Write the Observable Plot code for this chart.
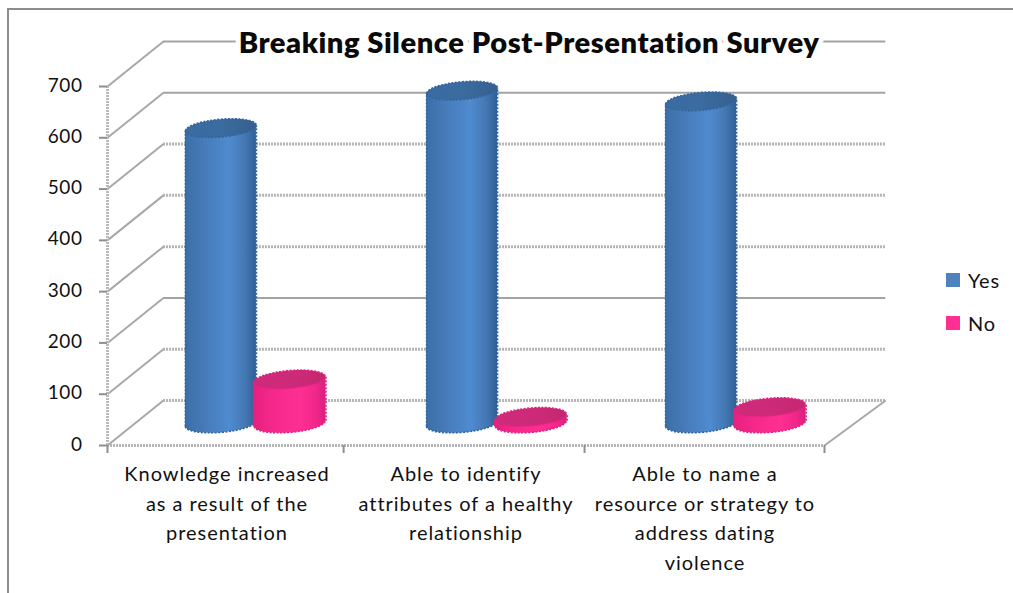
<!DOCTYPE html>
<html>
<head>
<meta charset="utf-8">
<script src="https://cdn.jsdelivr.net/npm/d3@7"></script>
<script src="https://cdn.jsdelivr.net/npm/@observablehq/plot@0.6"></script>
<style>
html,body{margin:0;padding:0;background:#fff;overflow:hidden}
#wrap{position:relative;width:1013px;height:593px;font-family:Lato,sans-serif;color:#111}
#wrap svg{position:absolute;left:0;top:0;letter-spacing:.55px}
#edge{position:absolute;left:7px;top:8px;right:0;bottom:0;border-left:2px solid #8d8d8d;border-top:2px solid #8d8d8d}
.key{position:absolute;left:946px;font-size:20px;line-height:20px;letter-spacing:.8px}
.key i{position:absolute;left:0;top:3px;width:14px;height:14px}
.key span{position:absolute;left:22px;top:0}
</style>
</head>
<body>
<div id="wrap"><div id="edge"></div></div>
<script>
const title = "Breaking Silence Post-Presentation Survey";
const categories = [
  "Knowledge increased\nas a result of the\npresentation",
  "Able to identify\nattributes of a healthy\nrelationship",
  "Able to name a\nresource or strategy to\naddress dating\nviolence"
];
const yesValues = [576, 649, 628];
const noValues = [86, 13, 32];
const yTicks = [0, 100, 200, 300, 400, 500, 600, 700];
const smoothGrid = [200, 600, 700];
const roughGrid = [0, 100, 300, 400, 500];
const xTicks = [0, 0.988, 1.996, 3];
const seriesColors = {Yes: "#4f81bd", No: "#ff2f92"};

const W = 1013, H = 593;
const depthX = 56, depthY = -45;        // oblique offset of the back wall, px
const midX = 28, midY = -22;            // columns stand halfway into the floor
const backX = 0.234, backY = 87.7;      // same depth expressed in data units
const rx = 35.5;
const shear = 0.08;                     // the column ends tilt up to the right
const tilt = 5.5;                       // that tilt at the column's edge, data units
const drift = [0, 0.009, 0.009];        // columns sit slightly off the even pitch

const ellipse = {
  draw(ctx, size) {
    const a = Math.sqrt(size / Math.PI), b = a * 0.25, k = 0.5523;
    const Y = (x, y) => y - shear * x;
    ctx.moveTo(-a, Y(-a, 0));
    ctx.bezierCurveTo(-a, Y(-a, -b * k), -a * k, Y(-a * k, -b), 0, Y(0, -b));
    ctx.bezierCurveTo(a * k, Y(a * k, -b), a, Y(a, -b * k), a, Y(a, 0));
    ctx.bezierCurveTo(a, Y(a, b * k), a * k, Y(a * k, b), 0, Y(0, b));
    ctx.bezierCurveTo(-a * k, Y(-a * k, b), -a, Y(-a, b * k), -a, Y(-a, 0));
    ctx.closePath();
  }
};

const columns = [
  ...yesValues.map((v, i) => ({id: "y" + i, value: v, x1: i + drift[i] + 0.209, x2: i + drift[i] + 0.506, series: "Yes"})),
  ...noValues.map((v, i) => ({id: "n" + i, value: v, x1: i + drift[i] + 0.494, x2: i + drift[i] + 0.797, series: "No"}))
];
const xc = d => (d.x1 + d.x2) / 2;

function gradient(id, stops) {
  return `<linearGradient id="${id}">` +
    stops.map(([o, c]) => `<stop offset="${o}" stop-color="${c}"/>`).join("") +
    `</linearGradient>`;
}
function defs() {
  const g = d3.create("svg:g");
  g.append("defs").html(
    gradient("blueSide", [[0, "#3b6fa8"], [.2, "#4478b4"], [.62, "#4f8bd0"], [.85, "#4477b2"], [1, "#2f5f96"]]) +
    gradient("blueTop", [[0, "#3a6ba2"], [.5, "#3b6c9f"], [1, "#355f90"]]) +
    gradient("pinkSide", [[0, "#e5207f"], [.25, "#f4288a"], [.65, "#ff2f92"], [.88, "#f0268a"], [1, "#d91f7c"]]) +
    gradient("pinkTop", [[0, "#cf2a7b"], [.6, "#cc2a78"], [1, "#c4266f"]])
  );
  return g.node();
}

function columnMarks(series, side, top, edge) {
  const data = columns.filter(d => d.series === series);
  const outline = data.flatMap(d => [
    {id: d.id, x: d.x1, y1: -tilt, y2: d.value - tilt},
    {id: d.id, x: d.x2, y1: tilt, y2: d.value + tilt}
  ]);
  const shift = {dx: midX, dy: midY};
  const dashes = {stroke: edge, strokeWidth: 1.6, strokeDasharray: "2 1.5"};
  return [
    Plot.dot(data, {x: xc, y: () => 0, r: rx, symbol: ellipse, fill: `url(#${side})`, ...shift, ...dashes}),
    Plot.areaY(outline, {x: "x", y1: "y1", y2: "y2", z: "id", fill: `url(#${side})`, ...shift}),
    Plot.link(outline, {x1: "x", x2: "x", y1: "y1", y2: "y2", ...dashes, ...shift}),
    Plot.dot(data, {x: xc, y: "value", r: rx, symbol: ellipse, fill: `url(#${top})`, ...shift, ...dashes})
  ];
}

const chart = Plot.plot({
  width: W,
  height: H,
  marginLeft: 107,
  marginRight: 189,
  marginTop: 86,
  marginBottom: 148,
  style: {fontFamily: "Lato, sans-serif", background: "transparent", overflow: "visible"},
  x: {domain: [0, 3], axis: null},
  y: {domain: [0, 700], axis: null},
  marks: [
    defs,
    // back wall
    Plot.ruleY(smoothGrid, {x1: () => 0, x2: () => 3.022, dx: depthX, dy: depthY, stroke: "#a3a3a3", strokeWidth: 2}),
    Plot.ruleY(roughGrid, {x1: () => 0, x2: () => 3.022, dx: depthX, dy: depthY, stroke: "#b6b6b6", strokeWidth: 3, strokeDasharray: "2 1"}),
    // floor and side wall edges
    Plot.link(yTicks, {x1: () => 0, y1: d => d, x2: () => backX, y2: d => d + backY, stroke: "#a8a8a8", strokeWidth: 2}),
    Plot.link([0], {x1: () => 3, y1: d => d, x2: () => 3 + backX + 0.022, y2: d => d + backY, stroke: "#a8a8a8", strokeWidth: 2}),
    Plot.ruleX([0], {y1: () => 0, y2: () => 700, stroke: "#bababa", strokeWidth: 3, strokeDasharray: "2 1"}),
    Plot.ruleY([0], {x1: () => 0, x2: () => 3, stroke: "#b6b6b6", strokeWidth: 3, strokeDasharray: "2 1"}),
    // axes
    Plot.axisY({ticks: yTicks, tickSize: 8, text: null, stroke: "#8f8f8f", strokeWidth: 2, label: null}),
    Plot.axisY({ticks: yTicks, tickSize: 0, tickPadding: 25, dy: -1, fontSize: 19, fill: "#111", label: null}),
    Plot.axisX({ticks: xTicks, tickSize: 8, text: null, stroke: "#8f8f8f", strokeWidth: 2, label: null}),
    Plot.text(categories, {
      x: (d, i) => i + 0.5, y: () => 0, dy: 14.5,
      text: d => d, lineAnchor: "top", lineHeight: 1.485, fontSize: 20, fill: "#111"
    }),
    // columns
    ...columnMarks("Yes", "blueSide", "blueTop", "#34659c"),
    ...columnMarks("No", "pinkSide", "pinkTop", "#e0247f"),
    // title
    Plot.text([title], {
      frameAnchor: "top", dx: 63, dy: -43, lineAnchor: "middle",
      fontSize: 29.1, fontWeight: 800, fill: "#0a0a0a",
      stroke: "white", strokeWidth: 10, paintOrder: "stroke"
    })
  ]
});

// the multi-line category labels are the only texts set with tspans
chart.querySelectorAll("text").forEach(t => {
  if (t.querySelector("tspan")) t.style.letterSpacing = "0.97px";
});

const wrap = document.getElementById("wrap");
wrap.appendChild(chart);
Object.entries(seriesColors).forEach(([name, color], i) => {
  const k = document.createElement("div");
  k.className = "key";
  k.style.top = (269.5 + i * 43) + "px";
  k.innerHTML = `<i style="background:${color}"></i><span>${name}</span>`;
  wrap.appendChild(k);
});
</script>
</body>
</html>
